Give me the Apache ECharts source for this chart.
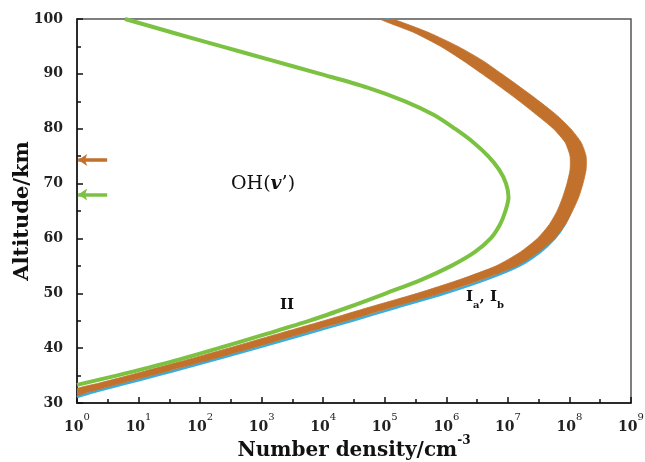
<!DOCTYPE html>
<html><head><meta charset="utf-8">
<script src="https://cdn.jsdelivr.net/npm/echarts@6/dist/echarts.min.js"></script>
<style>html,body{margin:0;padding:0;background:#fff}#c{width:645px;height:462px}</style>
</head><body><div id="c"></div>
<script>
// x axis: log10 of number density (cm^-3); y axis: altitude (km)
const xExponents = [0,1,2,3,4,5,6,7,8,9];
const yTicks = [30,40,50,60,70,80,90,100];

// Curve II (green)
const iiAlt  = [33.3, 35, 37.5, 40, 42.5, 45, 47.5, 50, 52.5, 55, 57.5, 60, 62.5, 65, 67.5, 70, 72.5, 75, 77.5, 80, 82.5, 85, 87.5, 90, 92.5, 95, 97.5, 100];
const iiLogN = [0.00, 0.64, 1.52, 2.30, 3.05, 3.78, 4.42, 5.02, 5.60, 6.08, 6.46, 6.72, 6.87, 6.96, 7.01, 6.97, 6.86, 6.68, 6.44, 6.14, 5.80, 5.33, 4.72, 3.95, 3.15, 2.35, 1.56, 0.78];

// Curve Ia (blue, mostly hidden beneath the Ib band)
const iaAlt  = [31.1, 32.0, 33.6, 35, 36.6, 40, 42.5, 45, 47.5, 50, 52.5, 55, 57.5, 60, 62.5, 65, 70, 75, 80, 85, 90, 95, 100];
const iaLogN = [0.00, 0.27, 0.81, 1.29, 1.82, 2.92, 3.69, 4.47, 5.22, 5.98, 6.64, 7.18, 7.52, 7.76, 7.92, 8.02, 8.15, 8.15, 7.90, 7.40, 6.80, 6.10, 5.02];

// Curve Ib band (brown): inner (upper-left) edge and outer (lower-right) edge
const ibInnerAlt  = [32.6, 33.6, 35, 36.6, 37.5, 40, 42.5, 45, 47.5, 50, 52.5, 55, 57.5, 60, 62.5, 65, 67.5, 70, 72.5, 75, 77.5, 80, 82.5, 85, 87.5, 90, 92.5, 95, 97.5, 100];
const ibInnerLogN = [0.00, 0.35, 0.83, 1.36, 1.66, 2.46, 3.23, 4.01, 4.76, 5.53, 6.22, 6.81, 7.20, 7.48, 7.67, 7.80, 7.89, 7.96, 8.01, 8.01, 7.93, 7.74, 7.47, 7.19, 6.89, 6.58, 6.26, 5.91, 5.48, 4.92];
const ibOuterAlt  = [31.4, 32.0, 33.6, 35, 36.6, 37.5, 40, 42.5, 45, 47.5, 50, 52.5, 55, 57.5, 60, 62.5, 65, 67.5, 70, 72.5, 75, 77.5, 80, 82.5, 85, 87.5, 90, 92.5, 95, 97.5, 100];
const ibOuterLogN = [0.00, 0.19, 0.73, 1.21, 1.74, 2.04, 2.84, 3.61, 4.39, 5.14, 5.91, 6.58, 7.15, 7.50, 7.76, 7.93, 8.05, 8.15, 8.22, 8.27, 8.27, 8.19, 8.02, 7.79, 7.51, 7.21, 6.90, 6.58, 6.19, 5.72, 5.12];

// Peak-altitude arrows on the left axis
const arrowAlt = { Ib: 74.3, II: 68.0 };
const arrowLogSpan = [0.49, 0.02];

const BROWN = '#c2712c', GREEN = '#7cc242', BLUE = '#35aee2';
const SERIF = 'DejaVu Serif';

const zipXY = (xs, ys) => xs.map((v, i) => [v, ys[i]]);

const chart = echarts.init(document.getElementById('c'), null, {renderer: 'canvas'});
chart.setOption({
  animation: false,
  backgroundColor: '#fff',
  grid: {left: 77, right: 14, top: 19, bottom: 59, outerBoundsMode: 'none', containLabel: false,
         show: true, borderColor: '#555', borderWidth: 1.5, backgroundColor: 'transparent'},
  xAxis: {
    type: 'value', min: xExponents[0], max: xExponents[xExponents.length - 1], interval: 1,
    name: '{t|Number density/cm}{s|-3}', nameLocation: 'middle', nameGap: 32, nameMoveOverlap: false,
    nameTextStyle: {rich: {
      t: {fontFamily: SERIF, fontWeight: 'bold', fontSize: 20, color: '#111', lineHeight: 26, verticalAlign: 'bottom'},
      s: {fontFamily: SERIF, fontWeight: 'bold', fontSize: 12, color: '#111', lineHeight: 14, verticalAlign: 'top'}
    }},
    axisLine: {lineStyle: {color: '#111', width: 1.5}},
    axisTick: {inside: true, length: 6, lineStyle: {color: '#111', width: 1.5}},
    minorTick: {show: true, splitNumber: 2, length: 4, lineStyle: {color: '#111', width: 1.5}},
    splitLine: {show: false},
    axisLabel: {margin: 9, formatter: v => '{b|10}{s|' + v + '}', rich: {
      b: {fontFamily: SERIF, fontWeight: 'bold', fontSize: 14, color: '#222', lineHeight: 22, verticalAlign: 'bottom'},
      s: {fontFamily: SERIF, fontSize: 10, color: '#222', lineHeight: 12, verticalAlign: 'top'}
    }}
  },
  yAxis: {
    type: 'value', min: yTicks[0], max: yTicks[yTicks.length - 1], interval: 10,
    name: 'Altitude/km', nameLocation: 'middle', nameGap: 44, nameRotate: 90, nameMoveOverlap: false,
    nameTextStyle: {fontFamily: SERIF, fontWeight: 'bold', fontSize: 21, color: '#111'},
    axisLine: {lineStyle: {color: '#111', width: 1.5}},
    axisTick: {inside: true, length: 6, lineStyle: {color: '#111', width: 1.5}},
    minorTick: {show: true, splitNumber: 2, length: 4, lineStyle: {color: '#111', width: 1.5}},
    splitLine: {show: false},
    axisLabel: {margin: 14, fontFamily: SERIF, fontWeight: 'bold', fontSize: 14, color: '#222'}
  },
  series: [
    {type: 'line', name: 'Ia', data: zipXY(iaLogN, iaAlt), smooth: 0.3, showSymbol: false, z: 2,
     lineStyle: {color: BLUE, width: 2.5}},
    {type: 'custom', name: 'Ib', coordinateSystem: 'cartesian2d', clip: true, z: 3,
     data: [[0, 30]],
     renderItem: (params, api) => {
       const pts = [];
       for (let i = 0; i < ibInnerLogN.length; i++) pts.push(api.coord([ibInnerLogN[i], ibInnerAlt[i]]));
       for (let i = ibOuterLogN.length - 1; i >= 0; i--) pts.push(api.coord([ibOuterLogN[i], ibOuterAlt[i]]));
       return {type: 'polygon', shape: {points: pts, smooth: 0.2}, style: {fill: BROWN, stroke: BROWN, lineWidth: 0.8}};
     }},
    {type: 'line', name: 'II', data: zipXY(iiLogN, iiAlt), smooth: 0.3, showSymbol: false, z: 4,
     lineStyle: {color: GREEN, width: 4},
     markLine: {silent: true, symbol: ['none', 'arrow'], symbolSize: [9, 9], label: {show: false},
       data: [
         [{coord: [arrowLogSpan[0], arrowAlt.Ib], lineStyle: {color: BROWN, width: 3.5, type: 'solid'}, itemStyle: {color: BROWN}},
          {coord: [arrowLogSpan[1], arrowAlt.Ib]}],
         [{coord: [arrowLogSpan[0], arrowAlt.II], lineStyle: {color: GREEN, width: 3.5, type: 'solid'}, itemStyle: {color: GREEN}},
          {coord: [arrowLogSpan[1], arrowAlt.II]}]
       ]}}
  ],
  graphic: [
    {type: 'text', left: 231, top: 175, style: {
      text: '{n|OH(}{i|v}{n|’)}', rich: {
        n: {fontFamily: SERIF, fontSize: 19, fill: '#111'},
        i: {fontFamily: SERIF, fontSize: 19, fontStyle: 'italic', fontWeight: 'bold', fill: '#111'}
      }}},
    {type: 'text', left: 280, top: 298, style: {text: 'II', fontFamily: SERIF, fontWeight: 'bold', fontSize: 15, fill: '#111'}},
    {type: 'text', left: 466, top: 290, style: {
      text: '{b|I}{s|a}{b|, I}{s|b}', rich: {
        b: {fontFamily: SERIF, fontWeight: 'bold', fontSize: 15, fill: '#111', lineHeight: 20, verticalAlign: 'top'},
        s: {fontFamily: SERIF, fontWeight: 'bold', fontSize: 10, fill: '#111', lineHeight: 20, verticalAlign: 'bottom'}
      }}}
  ]
});
</script></body></html>
